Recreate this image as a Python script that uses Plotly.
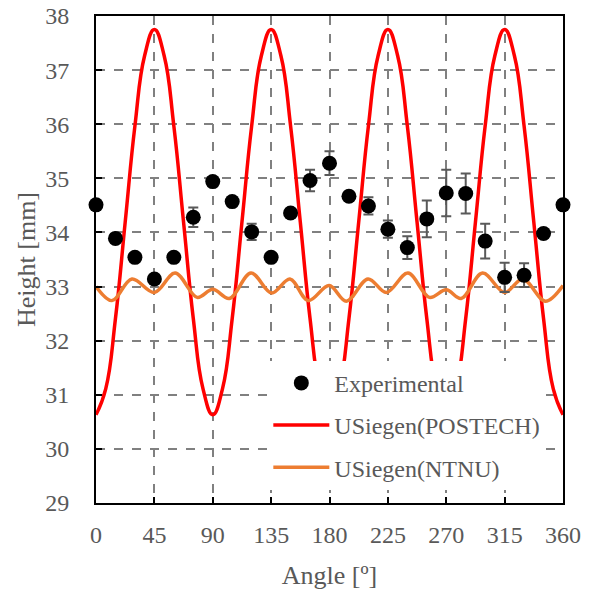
import plotly.graph_objects as go

# Experimental data
exp_angle = [0, 15, 30, 45, 60, 75, 90, 105, 120, 135, 150, 165, 180,
             195, 210, 225, 240, 255, 270, 285, 300, 315, 330, 345, 360]
exp_height = [34.51, 33.89, 33.54, 33.14, 33.54, 34.28, 34.94, 34.57, 34.01, 33.54, 34.36, 34.96, 35.28,
              34.67, 34.49, 34.06, 33.72, 34.25, 34.73, 34.72, 33.84, 33.17, 33.21, 33.98, 34.51]
exp_err = [0.05, 0.05, 0.05, 0.05, 0.05, 0.18, 0.08, 0.05, 0.15, 0.05, 0.05, 0.20, 0.22,
           0.08, 0.16, 0.16, 0.21, 0.34, 0.43, 0.37, 0.32, 0.27, 0.22, 0.05, 0.05]

# USiegen(POSTECH) curve, read every 7.5 degrees
postech_angle = [i * 7.5 for i in range(49)]
postech_height = [30.63, 31.11, 32.41, 34.19, 35.97, 37.27, 37.75, 37.27, 35.97, 34.19, 32.41, 31.11,
                  30.63, 31.11, 32.41, 34.19, 35.97, 37.27, 37.75, 37.27, 35.97, 34.19, 32.41, 31.11,
                  30.63, 31.11, 32.41, 34.19, 35.97, 37.27, 37.75, 37.27, 35.97, 34.19, 32.41, 31.11,
                  30.63, 31.11, 32.41, 34.19, 35.97, 37.27, 37.75, 37.27, 35.97, 34.19, 32.41, 31.11,
                  30.63]

# USiegen(NTNU) curve, read at its turning points
ntnu_angle = [0, 12.3, 27.7, 45, 61, 78, 90, 102.8, 119.5, 135.4, 149.5, 163.6, 179.7,
              193, 209.7, 223.8, 240.5, 257, 270, 281.5, 298, 315, 329, 346.5, 360]
ntnu_height = [33.00, 32.74, 33.14, 32.89, 33.25, 32.80, 32.95, 32.78, 33.25, 32.88, 33.14, 32.74, 33.02,
               32.73, 33.14, 32.89, 33.25, 32.80, 32.94, 32.78, 33.25, 32.89, 33.14, 32.73, 33.02]

x_ticks = [0, 45, 90, 135, 180, 225, 270, 315, 360]
y_ticks = [29, 30, 31, 32, 33, 34, 35, 36, 37, 38]

FONT = "Liberation Serif"
GRAY = "#595959"

fig = go.Figure()
fig.add_trace(go.Scatter(
    x=postech_angle, y=postech_height, mode="lines", name="USiegen(POSTECH)",
    line=dict(color="#FF0000", width=3.5, shape="spline", smoothing=1.3),
    legendgroup="b", legendrank=2))
fig.add_trace(go.Scatter(
    x=ntnu_angle, y=ntnu_height, mode="lines", name="USiegen(NTNU)",
    line=dict(color="#ED7D31", width=3.5, shape="spline"), legendgroup="c", legendrank=3))
fig.add_trace(go.Scatter(
    x=exp_angle, y=exp_height, mode="markers", name="Experimental",
    marker=dict(color="black", size=15),
    error_y=dict(type="data", array=exp_err, color=GRAY, thickness=2, width=5),
    legendgroup="a", legendrank=1, cliponaxis=False))

fig.update_layout(
    width=591, height=590,
    margin=dict(l=96, r=28, t=16, b=87),
    plot_bgcolor="white", paper_bgcolor="white",
    font=dict(family=FONT, size=24, color=GRAY),
    legend=dict(x=0.369, y=0.292, xanchor="left", yanchor="top",
                bgcolor="white", font=dict(size=24, color=GRAY),
                traceorder="grouped", tracegroupgap=8, itemwidth=56),
    showlegend=True,
)
fig.update_xaxes(
    range=[0, 360], tickvals=x_ticks, ticktext=[str(v) for v in x_ticks],
    showline=True, linecolor="black", linewidth=2, mirror=True,
    ticks="inside", ticklen=6, tickcolor="black", tickwidth=1.5,
    showgrid=True, gridcolor="#808080", griddash="dash", gridwidth=1.5,
    zeroline=False, ticklabelstandoff=9, automargin=False, ticklabeloverflow="allow",
    title=dict(text="Angle [º]", font=dict(size=26, color=GRAY), standoff=19))
fig.update_yaxes(
    range=[29, 38], tickvals=y_ticks, ticktext=[str(v) for v in y_ticks],
    showline=True, linecolor="black", linewidth=2, mirror=True,
    ticks="inside", ticklen=6, tickcolor="black", tickwidth=1.5,
    showgrid=True, gridcolor="#808080", griddash="dash", gridwidth=1.5,
    zeroline=False, ticklabelstandoff=20, automargin=False, ticklabeloverflow="allow",
    title=dict(text="Height [mm]", font=dict(size=26, color=GRAY), standoff=2))

fig.write_html("out.html", config={"displayModeBar": False},
               post_script="document.body.style.margin='0';")
